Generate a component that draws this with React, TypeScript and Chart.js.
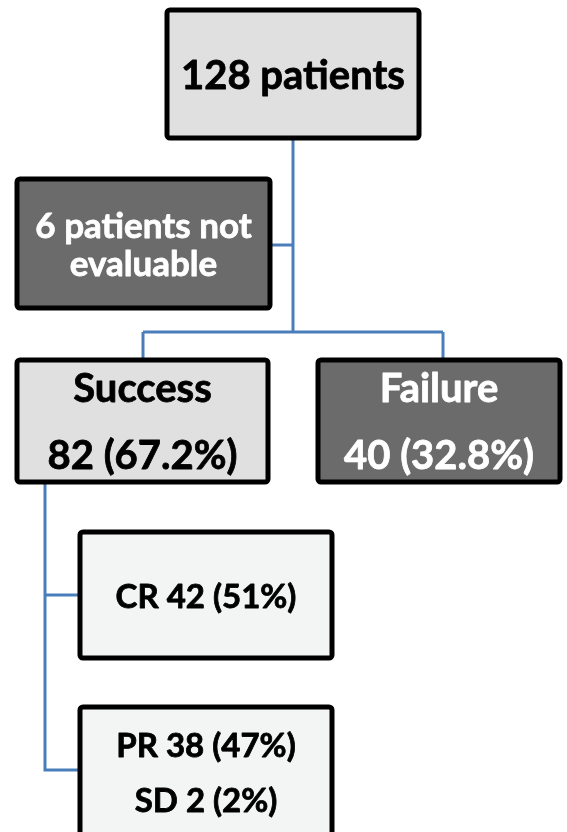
import React, { useEffect, useRef } from "react";
import { Chart, registerables } from "chart.js";

Chart.register(...registerables);

// ---- data ----
const nodeIds = ["total", "notEval", "success", "failure", "cr", "prsd"];
const nodeLines: string[][] = [
  ["128 patients"],
  ["6 patients not", "evaluable"],
  ["Success", "82 (67.2%)"],
  ["Failure", "40 (32.8%)"],
  ["CR 42 (51%)"],
  ["PR 38 (47%)", "SD 2 (2%)"],
];
const nodeCounts = [128, 6, 82, 40, 42, 40];

// ---- layout (pixel space of the 567x832 page) ----
const boxX = [167, 17, 17, 318, 80, 80];
const boxY = [10, 179, 360, 360, 532, 707];
const boxW = [252, 253, 251, 242, 252, 252];
const boxH = [128, 129, 122, 122, 126, 129];
const boxFill = ["#e0e0e0", "#6b6b6b", "#e0e0e0", "#6b6b6b", "#f3f5f5", "#f3f5f5"];
const textColor = ["#000", "#fff", "#000", "#fff", "#000", "#000"];
const fontSize = [40, 35, 40, 40, 33, 33];
const lineGap = [0, 38, 67, 67, 0, 55];
const textDy = [2, 2, 2, 2, 2, 2];

// connector polylines in page pixels
const connectors: number[][][] = [
  [[293, 138], [293, 332]],
  [[270, 245], [293, 245]],
  [[143, 332], [443, 332]],
  [[143, 332], [143, 360]],
  [[443, 332], [443, 360]],
  [[45, 482], [45, 770], [80, 770]],
  [[45, 595], [80, 595]],
];

const flowPlugin = {
  id: "flow",
  afterDatasetsDraw(chart: any) {
    const ctx = chart.ctx;
    const xs = chart.scales.x;
    const ys = chart.scales.y;
    const px = (v: number) => xs.getPixelForValue(v);
    const py = (v: number) => ys.getPixelForValue(v);
    ctx.save();
    // connectors
    ctx.strokeStyle = "#4a7ebb";
    ctx.lineWidth = 3;
    ctx.lineCap = "butt";
    ctx.lineJoin = "miter";
    connectors.forEach((pts) => {
      ctx.beginPath();
      pts.forEach((p, i) => {
        if (i === 0) ctx.moveTo(px(p[0]), py(p[1]));
        else ctx.lineTo(px(p[0]), py(p[1]));
      });
      ctx.stroke();
    });
    // boxes
    nodeIds.forEach((_, i) => {
      const x0 = px(boxX[i]);
      const y0 = py(boxY[i]);
      const x1 = px(boxX[i] + boxW[i]);
      const y1 = py(boxY[i] + boxH[i]);
      ctx.beginPath();
      (ctx as any).roundRect(x0, y0, x1 - x0, y1 - y0, 3);
      ctx.fillStyle = boxFill[i];
      ctx.fill();
      ctx.lineWidth = 5;
      ctx.strokeStyle = "#000";
      ctx.stroke();
      ctx.fillStyle = textColor[i];
      ctx.strokeStyle = textColor[i];
      ctx.lineWidth = 0.8;
      ctx.lineJoin = "round";
      ctx.font = `bold ${fontSize[i]}px Lato, "Open Sans", sans-serif`;
      ctx.textAlign = "center";
      ctx.textBaseline = "middle";
      const lines = nodeLines[i];
      const cx = (x0 + x1) / 2;
      const cy = (y0 + y1) / 2 + textDy[i];
      const n = lines.length;
      lines.forEach((t, k) => {
        const off = (k - (n - 1) / 2) * lineGap[i];
        ctx.fillText(t, cx, cy + off);
        ctx.strokeText(t, cx, cy + off);
      });
      ctx.lineJoin = "miter";
    });
    ctx.restore();
  },
};

export default function App() {
  const ref = useRef<HTMLCanvasElement | null>(null);
  useEffect(() => {
    document.body.style.margin = "0";
    const canvas = ref.current!;
    const chart = new Chart(canvas, {
      type: "scatter",
      data: {
        datasets: [
          {
            label: "nodes",
            data: nodeIds.map((_, i) => ({
              x: boxX[i] + boxW[i] / 2,
              y: boxY[i] + boxH[i] / 2,
              n: nodeCounts[i],
            })) as any,
            pointRadius: 0,
            pointHoverRadius: 0,
          },
        ],
      },
      options: {
        animation: false,
        responsive: false,
        maintainAspectRatio: false,
        layout: { padding: 0 },
        plugins: { legend: { display: false }, tooltip: { enabled: false } },
        scales: {
          x: { type: "linear", min: 0, max: 567, display: false },
          y: { type: "linear", min: 0, max: 832, reverse: true, display: false },
        },
      },
      plugins: [flowPlugin],
    });
    return () => chart.destroy();
  }, []);
  return (
    <div style={{ width: 567, height: 832, background: "#fff" }}>
      <canvas ref={ref} width={567} height={832} style={{ display: "block" }} />
    </div>
  );
}
